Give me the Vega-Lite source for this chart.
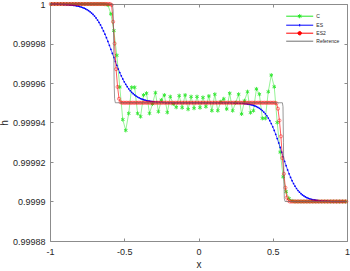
{
"$schema":"https://vega.github.io/schema/vega-lite/v6.json",
"width":297,"height":237,
"autosize":{"type":"none"},
"padding":{"left":50,"top":4,"right":3,"bottom":30},
"config":{
"font":"Liberation Sans",
"view":{"stroke":"#8c8c8c","strokeWidth":1},
"axis":{"grid":false,"domain":false,"tickSize":-3,"tickColor":"#8c8c8c","labelColor":"#262626","labelFontSize":9,"titleFontSize":10,"titleFontWeight":"normal","titleColor":"#262626","labelFlush":false,"labelOverlap":false},
"legend":{"orient":"none","legendX":245.7,"legendY":8.2,"title":null,"padding":0,"labelFontSize":5,"labelColor":"#262626","symbolSize":49,"symbolStrokeWidth":1,"rowPadding":0,"labelOffset":12.6,"symbolOpacity":1}
},
"datasets":{
"C":[{"x":-0.99,"h":1},{"x":-0.97,"h":1},{"x":-0.95,"h":1},{"x":-0.93,"h":1},{"x":-0.91,"h":1},{"x":-0.89,"h":1},{"x":-0.87,"h":1},{"x":-0.85,"h":1},{"x":-0.83,"h":1},{"x":-0.81,"h":1},{"x":-0.79,"h":1},{"x":-0.77,"h":1},{"x":-0.75,"h":1},{"x":-0.73,"h":1},{"x":-0.71,"h":1},{"x":-0.69,"h":1},{"x":-0.67,"h":1},{"x":-0.65,"h":1},{"x":-0.63,"h":0.9999999},{"x":-0.61,"h":0.9999995},{"x":-0.59,"h":0.999995},{"x":-0.57,"h":0.9999865},{"x":-0.55,"h":0.999974},{"x":-0.53,"h":0.999958},{"x":-0.51,"h":0.9999415},{"x":-0.49,"h":0.999936},{"x":-0.47,"h":0.9999446},{"x":-0.45,"h":0.9999578},{"x":-0.43,"h":0.9999578},{"x":-0.41,"h":0.9999446},{"x":-0.39,"h":0.999943},{"x":-0.37,"h":0.9999539},{"x":-0.35,"h":0.9999548},{"x":-0.33,"h":0.9999446},{"x":-0.31,"h":0.9999494},{"x":-0.29,"h":0.9999551},{"x":-0.27,"h":0.9999455},{"x":-0.25,"h":0.9999514},{"x":-0.23,"h":0.9999539},{"x":-0.21,"h":0.9999451},{"x":-0.19,"h":0.9999531},{"x":-0.17,"h":0.9999494},{"x":-0.15,"h":0.9999477},{"x":-0.13,"h":0.9999536},{"x":-0.11,"h":0.9999475},{"x":-0.09,"h":0.9999539},{"x":-0.07,"h":0.9999467},{"x":-0.05,"h":0.9999531},{"x":-0.03,"h":0.9999472},{"x":-0.01,"h":0.9999531},{"x":0.01,"h":0.9999475},{"x":0.03,"h":0.9999527},{"x":0.05,"h":0.999948},{"x":0.07,"h":0.9999534},{"x":0.09,"h":0.999946},{"x":0.11,"h":0.9999543},{"x":0.13,"h":0.999946},{"x":0.15,"h":0.9999505},{"x":0.17,"h":0.999952},{"x":0.19,"h":0.9999468},{"x":0.21,"h":0.9999548},{"x":0.23,"h":0.999946},{"x":0.25,"h":0.99995},{"x":0.27,"h":0.9999543},{"x":0.29,"h":0.9999443},{"x":0.31,"h":0.999951},{"x":0.33,"h":0.9999556},{"x":0.35,"h":0.999945},{"x":0.37,"h":0.999946},{"x":0.39,"h":0.999957},{"x":0.41,"h":0.9999543},{"x":0.43,"h":0.9999421},{"x":0.45,"h":0.9999421},{"x":0.47,"h":0.9999556},{"x":0.49,"h":0.999964},{"x":0.51,"h":0.9999581},{"x":0.53,"h":0.99994},{"x":0.55,"h":0.999925},{"x":0.57,"h":0.9999125},{"x":0.59,"h":0.999905},{"x":0.61,"h":0.9999015},{"x":0.63,"h":0.9999003},{"x":0.65,"h":0.9999},{"x":0.67,"h":0.9999},{"x":0.69,"h":0.9999},{"x":0.71,"h":0.9999},{"x":0.73,"h":0.9999},{"x":0.75,"h":0.9999},{"x":0.77,"h":0.9999},{"x":0.79,"h":0.9999},{"x":0.81,"h":0.9999},{"x":0.83,"h":0.9999},{"x":0.85,"h":0.9999},{"x":0.87,"h":0.9999},{"x":0.89,"h":0.9999},{"x":0.91,"h":0.9999},{"x":0.93,"h":0.9999},{"x":0.95,"h":0.9999},{"x":0.97,"h":0.9999},{"x":0.99,"h":0.9999}],
"ES":[{"x":-0.99,"h":1},{"x":-0.97,"h":1},{"x":-0.95,"h":0.9999999},{"x":-0.93,"h":0.99999985},{"x":-0.91,"h":0.99999978},{"x":-0.90,"h":0.99999974},{"x":-0.89,"h":0.99999969},{"x":-0.88,"h":0.99999964},{"x":-0.87,"h":0.99999957},{"x":-0.86,"h":0.9999995},{"x":-0.85,"h":0.99999941},{"x":-0.84,"h":0.9999993},{"x":-0.83,"h":0.99999918},{"x":-0.82,"h":0.99999904},{"x":-0.81,"h":0.99999887},{"x":-0.80,"h":0.99999868},{"x":-0.79,"h":0.99999845},{"x":-0.78,"h":0.99999818},{"x":-0.77,"h":0.99999787},{"x":-0.76,"h":0.99999751},{"x":-0.75,"h":0.99999709},{"x":-0.74,"h":0.99999662},{"x":-0.73,"h":0.99999606},{"x":-0.72,"h":0.99999542},{"x":-0.71,"h":0.99999469},{"x":-0.70,"h":0.99999387},{"x":-0.69,"h":0.99999293},{"x":-0.68,"h":0.99999187},{"x":-0.67,"h":0.99999069},{"x":-0.66,"h":0.99998938},{"x":-0.65,"h":0.99998795},{"x":-0.64,"h":0.99998639},{"x":-0.63,"h":0.99998471},{"x":-0.62,"h":0.99998292},{"x":-0.61,"h":0.99998103},{"x":-0.60,"h":0.99997906},{"x":-0.59,"h":0.99997704},{"x":-0.58,"h":0.999975},{"x":-0.57,"h":0.99997296},{"x":-0.56,"h":0.99997094},{"x":-0.55,"h":0.99996897},{"x":-0.54,"h":0.99996708},{"x":-0.53,"h":0.99996529},{"x":-0.52,"h":0.99996361},{"x":-0.51,"h":0.99996205},{"x":-0.50,"h":0.99996062},{"x":-0.49,"h":0.99995931},{"x":-0.48,"h":0.99995813},{"x":-0.47,"h":0.99995706},{"x":-0.46,"h":0.99995613},{"x":-0.45,"h":0.99995531},{"x":-0.44,"h":0.99995458},{"x":-0.43,"h":0.99995394},{"x":-0.42,"h":0.99995338},{"x":-0.41,"h":0.99995291},{"x":-0.40,"h":0.99995249},{"x":-0.39,"h":0.99995213},{"x":-0.38,"h":0.99995182},{"x":-0.37,"h":0.99995155},{"x":-0.36,"h":0.99995132},{"x":-0.35,"h":0.99995113},{"x":-0.34,"h":0.99995096},{"x":-0.33,"h":0.99995082},{"x":-0.32,"h":0.9999507},{"x":-0.31,"h":0.99995059},{"x":-0.30,"h":0.9999505},{"x":-0.28,"h":0.99995035},{"x":-0.26,"h":0.99995025},{"x":-0.24,"h":0.99995017},{"x":-0.22,"h":0.99995},{"x":-0.20,"h":0.99995},{"x":-0.18,"h":0.99995},{"x":-0.16,"h":0.99995},{"x":-0.14,"h":0.99995},{"x":-0.12,"h":0.99995},{"x":-0.10,"h":0.99995},{"x":-0.08,"h":0.99995},{"x":-0.06,"h":0.99995},{"x":-0.04,"h":0.99995},{"x":-0.02,"h":0.99995},{"x":0,"h":0.99995},{"x":0.02,"h":0.99995},{"x":0.04,"h":0.99995},{"x":0.06,"h":0.99995},{"x":0.08,"h":0.99995},{"x":0.10,"h":0.99995},{"x":0.12,"h":0.99995},{"x":0.14,"h":0.99995},{"x":0.16,"h":0.99995},{"x":0.18,"h":0.99995},{"x":0.20,"h":0.99995},{"x":0.22,"h":0.99995},{"x":0.24,"h":0.9999499},{"x":0.26,"h":0.9999498},{"x":0.28,"h":0.99994972},{"x":0.30,"h":0.99994963},{"x":0.31,"h":0.99994956},{"x":0.32,"h":0.99994947},{"x":0.33,"h":0.99994936},{"x":0.34,"h":0.99994922},{"x":0.35,"h":0.99994907},{"x":0.36,"h":0.99994888},{"x":0.37,"h":0.99994865},{"x":0.38,"h":0.99994838},{"x":0.39,"h":0.99994805},{"x":0.40,"h":0.99994767},{"x":0.41,"h":0.99994721},{"x":0.42,"h":0.99994668},{"x":0.43,"h":0.99994604},{"x":0.44,"h":0.99994529},{"x":0.45,"h":0.99994443},{"x":0.46,"h":0.99994342},{"x":0.47,"h":0.99994226},{"x":0.48,"h":0.99994094},{"x":0.49,"h":0.99993947},{"x":0.50,"h":0.99993781},{"x":0.51,"h":0.99993599},{"x":0.52,"h":0.99993401},{"x":0.53,"h":0.99993189},{"x":0.54,"h":0.99992966},{"x":0.55,"h":0.99992736},{"x":0.56,"h":0.999925},{"x":0.57,"h":0.99992264},{"x":0.58,"h":0.99992034},{"x":0.59,"h":0.99991811},{"x":0.60,"h":0.99991599},{"x":0.61,"h":0.99991401},{"x":0.62,"h":0.99991219},{"x":0.63,"h":0.99991053},{"x":0.64,"h":0.99990906},{"x":0.65,"h":0.99990774},{"x":0.66,"h":0.99990658},{"x":0.67,"h":0.99990557},{"x":0.68,"h":0.99990471},{"x":0.69,"h":0.99990396},{"x":0.70,"h":0.99990332},{"x":0.71,"h":0.99990279},{"x":0.72,"h":0.99990233},{"x":0.73,"h":0.99990195},{"x":0.74,"h":0.99990162},{"x":0.75,"h":0.99990135},{"x":0.76,"h":0.99990112},{"x":0.77,"h":0.99990093},{"x":0.78,"h":0.99990078},{"x":0.79,"h":0.99990064},{"x":0.80,"h":0.99990053},{"x":0.82,"h":0.99990037},{"x":0.84,"h":0.99990025},{"x":0.86,"h":0.99990017},{"x":0.88,"h":0.9999001},{"x":0.90,"h":0.9999},{"x":0.92,"h":0.9999},{"x":0.94,"h":0.9999},{"x":0.96,"h":0.9999},{"x":0.98,"h":0.9999}],
"ES2":[{"x":-0.995,"h":1},{"x":-0.985,"h":1},{"x":-0.975,"h":1},{"x":-0.965,"h":1},{"x":-0.955,"h":1},{"x":-0.945,"h":1},{"x":-0.935,"h":1},{"x":-0.925,"h":1},{"x":-0.915,"h":1},{"x":-0.905,"h":1},{"x":-0.895,"h":1},{"x":-0.885,"h":1},{"x":-0.875,"h":1},{"x":-0.865,"h":1},{"x":-0.855,"h":1},{"x":-0.845,"h":1},{"x":-0.835,"h":1},{"x":-0.825,"h":1},{"x":-0.815,"h":1},{"x":-0.805,"h":1},{"x":-0.795,"h":1},{"x":-0.785,"h":1},{"x":-0.775,"h":1},{"x":-0.765,"h":1},{"x":-0.755,"h":1},{"x":-0.745,"h":1},{"x":-0.735,"h":1},{"x":-0.725,"h":1},{"x":-0.715,"h":1},{"x":-0.705,"h":1},{"x":-0.695,"h":1},{"x":-0.685,"h":1},{"x":-0.675,"h":1},{"x":-0.665,"h":1},{"x":-0.655,"h":1},{"x":-0.645,"h":1},{"x":-0.635,"h":1},{"x":-0.625,"h":1},{"x":-0.615,"h":1},{"x":-0.605,"h":1},{"x":-0.595,"h":1},{"x":-0.585,"h":0.9999995},{"x":-0.575,"h":0.999991},{"x":-0.565,"h":0.99998},{"x":-0.555,"h":0.999967},{"x":-0.545,"h":0.999958},{"x":-0.535,"h":0.999952},{"x":-0.525,"h":0.9999503},{"x":-0.515,"h":0.99995},{"x":-0.505,"h":0.99995},{"x":-0.495,"h":0.99995},{"x":-0.485,"h":0.99995},{"x":-0.475,"h":0.99995},{"x":-0.465,"h":0.99995},{"x":-0.455,"h":0.99995},{"x":-0.445,"h":0.99995},{"x":-0.435,"h":0.99995},{"x":-0.425,"h":0.99995},{"x":-0.415,"h":0.99995},{"x":-0.405,"h":0.99995},{"x":-0.395,"h":0.99995},{"x":-0.385,"h":0.99995},{"x":-0.375,"h":0.99995},{"x":-0.365,"h":0.99995},{"x":-0.355,"h":0.99995},{"x":-0.345,"h":0.99995},{"x":-0.335,"h":0.99995},{"x":-0.325,"h":0.99995},{"x":-0.315,"h":0.99995},{"x":-0.305,"h":0.99995},{"x":-0.295,"h":0.99995},{"x":-0.285,"h":0.99995},{"x":-0.275,"h":0.99995},{"x":-0.265,"h":0.99995},{"x":-0.255,"h":0.99995},{"x":-0.245,"h":0.99995},{"x":-0.235,"h":0.99995},{"x":-0.225,"h":0.99995},{"x":-0.215,"h":0.99995},{"x":-0.205,"h":0.99995},{"x":-0.195,"h":0.99995},{"x":-0.185,"h":0.99995},{"x":-0.175,"h":0.99995},{"x":-0.165,"h":0.99995},{"x":-0.155,"h":0.99995},{"x":-0.145,"h":0.99995},{"x":-0.135,"h":0.99995},{"x":-0.125,"h":0.99995},{"x":-0.115,"h":0.99995},{"x":-0.105,"h":0.99995},{"x":-0.095,"h":0.99995},{"x":-0.085,"h":0.99995},{"x":-0.075,"h":0.99995},{"x":-0.065,"h":0.99995},{"x":-0.055,"h":0.99995},{"x":-0.045,"h":0.99995},{"x":-0.035,"h":0.99995},{"x":-0.025,"h":0.99995},{"x":-0.015,"h":0.99995},{"x":-0.005,"h":0.99995},{"x":0.005,"h":0.99995},{"x":0.015,"h":0.99995},{"x":0.025,"h":0.99995},{"x":0.035,"h":0.99995},{"x":0.045,"h":0.99995},{"x":0.055,"h":0.99995},{"x":0.065,"h":0.99995},{"x":0.075,"h":0.99995},{"x":0.085,"h":0.99995},{"x":0.095,"h":0.99995},{"x":0.105,"h":0.99995},{"x":0.115,"h":0.99995},{"x":0.125,"h":0.99995},{"x":0.135,"h":0.99995},{"x":0.145,"h":0.99995},{"x":0.155,"h":0.99995},{"x":0.165,"h":0.99995},{"x":0.175,"h":0.99995},{"x":0.185,"h":0.99995},{"x":0.195,"h":0.99995},{"x":0.205,"h":0.99995},{"x":0.215,"h":0.99995},{"x":0.225,"h":0.99995},{"x":0.235,"h":0.99995},{"x":0.245,"h":0.99995},{"x":0.255,"h":0.99995},{"x":0.265,"h":0.99995},{"x":0.275,"h":0.99995},{"x":0.285,"h":0.99995},{"x":0.295,"h":0.99995},{"x":0.305,"h":0.99995},{"x":0.315,"h":0.99995},{"x":0.325,"h":0.99995},{"x":0.335,"h":0.99995},{"x":0.345,"h":0.99995},{"x":0.355,"h":0.99995},{"x":0.365,"h":0.99995},{"x":0.375,"h":0.99995},{"x":0.385,"h":0.99995},{"x":0.395,"h":0.99995},{"x":0.405,"h":0.99995},{"x":0.415,"h":0.99995},{"x":0.425,"h":0.99995},{"x":0.435,"h":0.99995},{"x":0.445,"h":0.99995},{"x":0.455,"h":0.99995},{"x":0.465,"h":0.99995},{"x":0.475,"h":0.99995},{"x":0.485,"h":0.99995},{"x":0.495,"h":0.99995},{"x":0.505,"h":0.99995},{"x":0.515,"h":0.99995},{"x":0.525,"h":0.9999497},{"x":0.535,"h":0.999947},{"x":0.545,"h":0.999941},{"x":0.555,"h":0.999933},{"x":0.565,"h":0.999922},{"x":0.575,"h":0.999914},{"x":0.585,"h":0.999907},{"x":0.595,"h":0.999902},{"x":0.605,"h":0.9999005},{"x":0.615,"h":0.9999},{"x":0.625,"h":0.9999},{"x":0.635,"h":0.9999},{"x":0.645,"h":0.9999},{"x":0.655,"h":0.9999},{"x":0.665,"h":0.9999},{"x":0.675,"h":0.9999},{"x":0.685,"h":0.9999},{"x":0.695,"h":0.9999},{"x":0.705,"h":0.9999},{"x":0.715,"h":0.9999},{"x":0.725,"h":0.9999},{"x":0.735,"h":0.9999},{"x":0.745,"h":0.9999},{"x":0.755,"h":0.9999},{"x":0.765,"h":0.9999},{"x":0.775,"h":0.9999},{"x":0.785,"h":0.9999},{"x":0.795,"h":0.9999},{"x":0.805,"h":0.9999},{"x":0.815,"h":0.9999},{"x":0.825,"h":0.9999},{"x":0.835,"h":0.9999},{"x":0.845,"h":0.9999},{"x":0.855,"h":0.9999},{"x":0.865,"h":0.9999},{"x":0.875,"h":0.9999},{"x":0.885,"h":0.9999},{"x":0.895,"h":0.9999},{"x":0.905,"h":0.9999},{"x":0.915,"h":0.9999},{"x":0.925,"h":0.9999},{"x":0.935,"h":0.9999},{"x":0.945,"h":0.9999},{"x":0.955,"h":0.9999},{"x":0.965,"h":0.9999},{"x":0.975,"h":0.9999},{"x":0.985,"h":0.9999},{"x":0.995,"h":0.9999}],
"Ref":[{"x":-1,"h":1},{"x":-0.58,"h":1},{"x":-0.575,"h":0.999997},{"x":-0.571,"h":0.99998},{"x":-0.568,"h":0.99996},{"x":-0.565,"h":0.999952},{"x":-0.56,"h":0.99995},{"x":0.565,"h":0.99995},{"x":0.569,"h":0.999948},{"x":0.572,"h":0.99993},{"x":0.575,"h":0.99991},{"x":0.578,"h":0.9999015},{"x":0.583,"h":0.9999},{"x":1,"h":0.9999}],
"none":[]
},
"resolve":{"scale":{"x":"independent","y":"independent"}},
"layer":[
{"encoding":{"x":{"field":"x","type":"quantitative","scale":{"domain":[-1,1],"nice":false,"zero":false},"axis":{"orient":"bottom","values":[-1,-0.5,0,0.5,1],"labelExpr":"toString(datum.value)","title":"x","labelPadding":9,"titlePadding":3,"labelOverlap":false,"labelBound":false}},
"y":{"field":"h","type":"quantitative","scale":{"domain":[0.99988,1],"nice":false,"zero":false},"axis":{"orient":"left","values":[0.99988,0.9999,0.99992,0.99994,0.99996,0.99998,1],"labelExpr":"toString(datum.value)","title":"h","labelPadding":8,"titlePadding":3,"labelOverlap":false,"labelBound":false}}},
"layer":[
{"data":{"name":"C"},"mark":{"type":"line","strokeWidth":0.8,"opacity":0.6},
"encoding":{"color":{"datum":"C","type":"nominal","scale":{"domain":["C","ES","ES2","Reference"],"range":["#22e622","#0000ff","#ff0000","#707070"]}}}},
{"data":{"name":"C"},"mark":{"type":"point","shape":"M0,-1L0,1M-0.87,-0.5L0.87,0.5M-0.87,0.5L0.87,-0.5","size":16,"filled":false,"strokeWidth":1,"opacity":0.85},
"encoding":{"color":{"datum":"C","type":"nominal"}}},
{"data":{"name":"ES"},"mark":{"type":"line","strokeWidth":0.8,"opacity":0.8},
"encoding":{"color":{"datum":"ES","type":"nominal"}}},
{"data":{"name":"ES"},"mark":{"type":"point","shape":"circle","size":3,"filled":true,"opacity":1},
"encoding":{"color":{"datum":"ES","type":"nominal"}}},
{"data":{"name":"ES2"},"mark":{"type":"line","strokeWidth":0.8,"opacity":0.8},
"encoding":{"color":{"datum":"ES2","type":"nominal"}}},
{"data":{"name":"ES2"},"mark":{"type":"point","shape":"circle","size":10,"filled":false,"strokeWidth":0.8,"opacity":0.6},
"encoding":{"color":{"datum":"ES2","type":"nominal"}}},
{"data":{"name":"none"},"mark":{"type":"point","filled":false,"strokeWidth":1},
"encoding":{
"color":{"field":"s","type":"nominal","scale":{"domain":["C","ES","ES2","Reference"],"range":["#22e622","#0000ff","#ff0000","#707070"]}},
"shape":{"field":"s","type":"nominal","scale":{"domain":["C","ES","ES2","Reference"],"range":["M-3.86,0L3.86,0M0,-0.6L0,0.6M-0.52,-0.3L0.52,0.3M-0.52,0.3L0.52,-0.3","M-3.86,0L3.86,0M0,-0.35L0,0.35","M-3.86,0L3.86,0M0.5,0A0.5,0.5,0,1,1,-0.5,0A0.5,0.5,0,1,1,0.5,0","M-3.86,0L3.86,0"]}}}}
]},
{"data":{"name":"Ref"},"mark":{"type":"line","strokeWidth":0.8,"opacity":0.9},
"encoding":{"x":{"field":"x","type":"quantitative","scale":{"domain":[-1,1],"nice":false,"zero":false},"axis":{"orient":"top","labels":false,"title":null,"values":[-1,-0.5,0,0.5,1]}},
"y":{"field":"h","type":"quantitative","scale":{"domain":[0.99988,1],"nice":false,"zero":false},"axis":{"orient":"right","labels":false,"title":null,"values":[0.99988,0.9999,0.99992,0.99994,0.99996,0.99998,1]}},
"color":{"datum":"Reference","type":"nominal"}}}
]
}
